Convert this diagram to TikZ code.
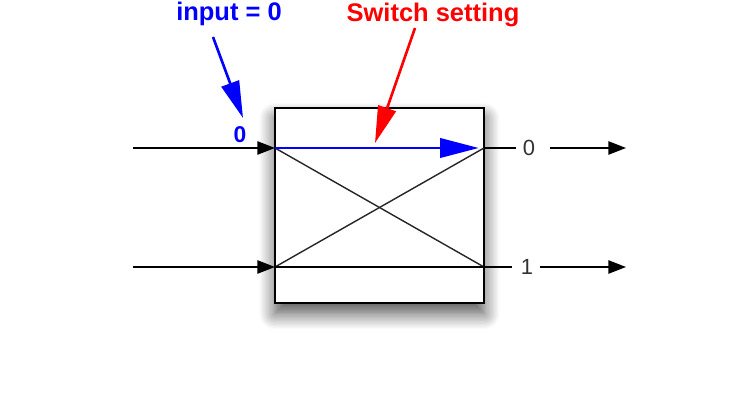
\documentclass[tikz,border=0pt]{standalone}
\usepackage{fontspec}
\setmainfont{Liberation Sans}
\usetikzlibrary{calc, arrows.meta, shadows.blur}
\usepackage{xcolor}

\begin{document}
\begin{tikzpicture}[%
    x=0.02cm, y=-0.02cm,
    every edge/.style = {draw, line width=1pt},
    port/.style = {-{Triangle[length=10pt, width=7.5pt]}},
    bigtip/.style = {line width=1.5pt, -{Triangle[length=21pt, width=10.5pt]}},
    lbl/.style = {font=\bfseries\fontsize{14.5}{17}\selectfont, anchor=base, inner sep=0pt},
    outlbl/.style = {font=\fontsize{12.5}{14}\selectfont, text=black!80, inner sep=0pt}
]
\useasboundingbox (0,0) rectangle (742,401);
\node (sw) [draw, line width=1.3pt, fill=white, inner sep=0pt,
    minimum width=4.18cm, minimum height=3.9cm,
    blur shadow={shadow xshift=0pt, shadow yshift=-6pt, shadow blur radius=9pt, shadow blur steps=12, shadow opacity=70}]
    at (379.5,205.5) {};
\coordinate (a0) at (275,148);
\coordinate (a1) at (275,267);
\coordinate (b0) at (484,148);
\coordinate (b1) at (484,267);
\coordinate (s0) at (133,148);
\coordinate (s1) at (133,267);
\coordinate (e0) at (626,148);
\coordinate (e1) at (626,267);
\node (o0) [outlbl] at (529,148) {0};
\node (o1) [outlbl] at (527,267) {1};
\node (z0) [font=\bfseries\fontsize{13}{15}\selectfont, text=blue, anchor=base, inner sep=0pt] at (240,143) {0};
\node (inp) [lbl, text=blue] at (229,21) {input = 0};
\node (sset) [lbl, text=red] at (433,22) {Switch setting};
\coordinate (it) at (213,37);
\coordinate (ih) at (243,118);
\coordinate (rt) at (415,28);
\coordinate (rh) at (375,143);
\path
    (s0) edge [port] (a0)
    (s1) edge [port] (a1)
    (a0) edge [black!85, line width=0.8pt] (b1)
    (a1) edge [black!85, line width=0.8pt] (b0)
    (a1) edge [shorten >=5pt] (o1)
    (o1) edge [port, shorten <=4pt] (e1)
    (b0) edge [shorten >=4pt] (o0)
    (o0) edge [port, shorten <=8pt] (e0)
    (a0) edge [blue, line width=1.6pt, -{Triangle[length=22pt, width=11pt]}, shorten >=3pt] (b0)
    (it) edge [bigtip, blue] (ih)
    (rt) edge [bigtip, red] (rh)
    ;
\end{tikzpicture}
\end{document}
